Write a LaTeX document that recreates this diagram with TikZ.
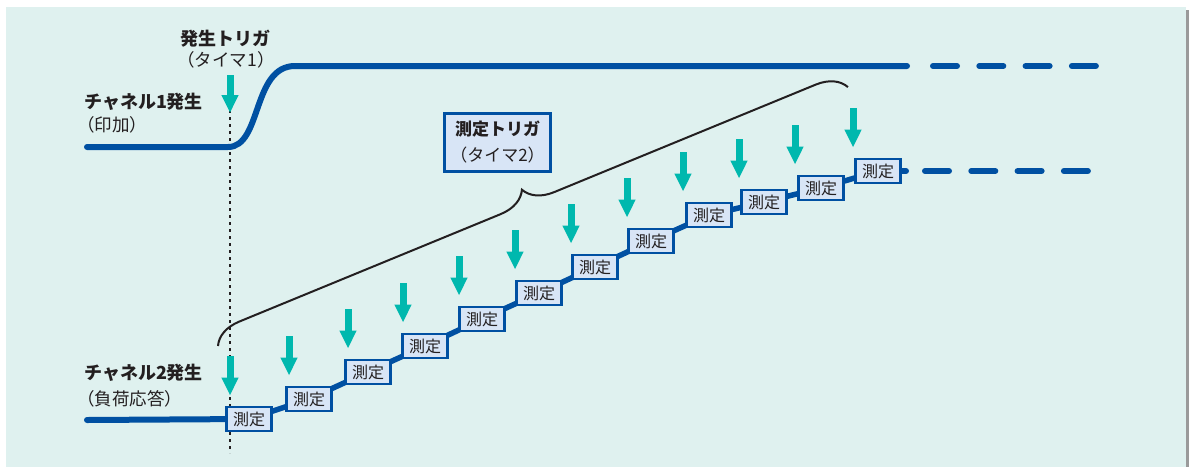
\documentclass[tikz,border=0pt]{standalone}
\usepackage{fontspec}
\setmainfont{Noto Sans CJK JP}
\usetikzlibrary{arrows.meta,decorations.pathreplacing}
\definecolor{bgteal}{HTML}{DFF1EF}
\definecolor{lineblue}{HTML}{0050A2}
\definecolor{boxfill}{HTML}{D8E5F6}
\definecolor{trigteal}{HTML}{00B8AE}
\definecolor{ink}{HTML}{231F20}
\definecolor{shadowgray}{HTML}{9A9A9A}
\pgfdeclarelayer{canvasbg}
\pgfdeclarelayer{back}
\pgfsetlayers{canvasbg,back,main}
\begin{document}
\begin{tikzpicture}[x=1pt,y=-1pt,
  meas/.style={draw=lineblue, line width=2.8pt, fill=boxfill, minimum width=45pt,
    minimum height=24pt, inner sep=0pt, font=\fontsize{16}{16}\selectfont, text=ink},
  tbox/.style={draw=lineblue, line width=2.6pt, fill=boxfill, minimum width=106pt,
    minimum height=58pt, inner sep=0pt, align=center,
    font=\fontsize{17}{26}\selectfont, text=ink},
  lbl/.style={inner sep=0pt, text=ink, font=\fontsize{17.5}{17.5}\selectfont},
  blbl/.style={inner sep=0pt, text=ink, font=\fontsize{18}{18}\selectfont\bfseries},
  trig/.style={draw=trigteal, line width=7pt, -{Triangle[length=18pt,width=16pt]}},
  sig/.style={draw=lineblue, line width=6pt, line cap=round},
  chain/.style={draw=lineblue, line width=5.5pt},
  dsig/.style={draw=lineblue, line width=6pt, line cap=round, dash pattern=on 24pt off 22.3pt},
]
\useasboundingbox (0,0) rectangle (1189,467);
\begin{pgfonlayer}{canvasbg}
\fill[white] (0,0) rectangle (1189,467);
\fill[bgteal] (6,7) rectangle (1186,467);
\fill[shadowgray] (1186,10) rectangle (1189,467);
\end{pgfonlayer}

% labels
\node[blbl] (l1) at (225,38.5) {発生トリガ};
\node[lbl] (l2) at (226,60) {（タイマ1）};
\node[blbl, anchor=west] (l3) at (84,102) {チャネル1発生};
\node[lbl, anchor=west] (l4) at (77,125) {（印加）};
\node[blbl, anchor=west] (l5) at (84,373) {チャネル2発生};
\node[lbl, anchor=west] (l6) at (77,399) {（負荷応答）};

% dotted trigger line
\coordinate (dtop) at (230,110);
\coordinate (dbot) at (230,453);
\draw[ink, line width=2.5pt, dash pattern=on 3pt off 4pt] (dtop) -- (dbot);

% channel 1
\coordinate (c1a) at (87,147);
\coordinate (c1b) at (228,147);
\coordinate (c1c) at (295,66);
\coordinate (c1d) at (907,66);
\coordinate (c1e) at (933,66);
\coordinate (c1f) at (1097,66);
\draw[sig] (c1a) -- (c1b) .. controls (262,147) and (252,66) .. (c1c) -- (c1d);
\draw[dsig] (c1e) -- (c1f);

% trigger 1 arrow
\coordinate (t1s) at (230,75);
\coordinate (t1e) at (230,113);
\draw[trig] (t1s) -- (t1e);

% measurement boxes and arrows
\foreach \i/\cx/\cy/\ax in {1/249/419/230, 2/309/399/289, 3/368/372/348, 4/425/346/403,
  5/482/319/459, 6/539/293/515, 7/595/267/571, 8/651/241/627, 9/709/215/683,
  10/764/202/739, 11/821/188/795, 12/878/171/853}{
  \node[meas] (m\i) at (\cx,\cy) {測定};
  \draw[trig] (\ax,{\cy-63}) -- (\ax,{\cy-23.5});
}

% channel 2 connectors (behind boxes)
\coordinate (c2a) at (87,420);
\coordinate (c2stub) at (906,171);
\coordinate (c2e) at (925,171);
\coordinate (c2f) at (1089,171);
\begin{pgfonlayer}{back}
\draw[sig] (c2a) -- (m1.center);
\draw[chain] (m1.center) -- (m2.center) -- (m3.center) -- (m4.center) -- (m5.center)
  -- (m6.center) -- (m7.center) -- (m8.center) -- (m9.center) -- (m10.center)
  -- (m11.center) -- (m12.center);
\draw[sig] (m12.center) -- (c2stub);
\end{pgfonlayer}
\draw[dsig] (c2e) -- (c2f);

% brace
\coordinate (br1) at (218,346);
\coordinate (br2) at (848,87);
\draw[ink, line width=2pt, decorate, decoration={brace, amplitude=29pt}] (br1) -- (br2);

% title box
\node[tbox] (tt) at (497.5,142.5) {\textbf{測定トリガ}\\（タイマ2）};
\end{tikzpicture}
\end{document}
